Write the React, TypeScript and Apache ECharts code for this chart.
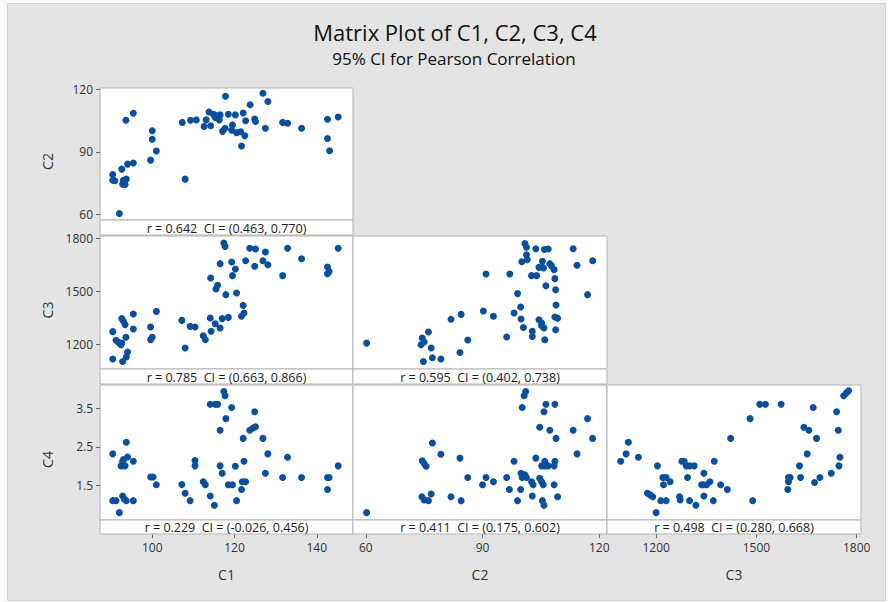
import React, { useEffect, useRef } from "react";
import * as echarts from "echarts";

// ---- data ----
const c1c2: number[][] = [
  [90.4, 79.1], [90.4, 76.4], [90.9, 76.1], [92.0, 60.4], [92.6, 81.7], [93.0, 76.4], [93.7, 76.9],
  [92.8, 74.5], [93.4, 74.3], [93.6, 105.1], [94.0, 84.1], [95.4, 84.6], [95.4, 108.5], [99.6, 86.0],
  [100.0, 96.0], [100.0, 100.1], [101.0, 90.4], [108.0, 76.9], [107.3, 104.1], [109.3, 105.1],
  [110.7, 105.3], [112.6, 102.1], [113.1, 105.3], [113.8, 109.1], [114.2, 102.5], [114.9, 108.0],
  [115.3, 106.5], [115.8, 107.3], [116.3, 105.3], [116.5, 107.7], [117.1, 99.8], [117.8, 116.6],
  [117.7, 101.3], [118.5, 108.0], [119.3, 100.4], [119.5, 102.9], [120.2, 107.7], [120.5, 99.2],
  [121.5, 99.6], [121.7, 92.8], [122.1, 108.6], [122.5, 97.7], [122.7, 104.9], [123.8, 112.6],
  [124.9, 105.7], [125.1, 104.5], [126.9, 118.1], [127.5, 101.3], [128.1, 114.1], [131.7, 104.1],
  [132.9, 103.7], [136.3, 101.3], [142.6, 105.6], [142.6, 96.4], [143.1, 90.5], [145.2, 106.7],
];

const c1c3: number[][] = [
  [90.4, 1272], [90.4, 1117], [91.2, 1223], [91.8, 1211], [92.4, 1198], [92.6, 1346], [92.8, 1103],
  [93.0, 1331], [93.4, 1312], [93.6, 1240], [93.7, 1128], [94.0, 1156], [92.6, 1207], [95.4, 1372],
  [95.4, 1287], [99.6, 1298], [99.6, 1226], [100.0, 1240], [101.0, 1387], [107.2, 1336], [108.0, 1179],
  [109.2, 1302], [110.4, 1298], [112.4, 1249], [112.9, 1226], [114.1, 1349], [114.3, 1274], [115.3, 1317],
  [116.5, 1293], [117.0, 1346], [118.5, 1353], [114.2, 1577], [115.5, 1514], [115.9, 1535], [116.5, 1658],
  [117.4, 1775], [117.7, 1756], [117.9, 1482], [119.3, 1667], [119.5, 1590], [120.2, 1628], [120.5, 1491],
  [121.7, 1359], [122.1, 1421], [122.3, 1378], [122.7, 1675], [123.7, 1745], [124.9, 1643], [125.1, 1741],
  [126.9, 1675], [127.5, 1724], [128.1, 1652], [131.7, 1590], [132.9, 1745], [136.3, 1686], [142.6, 1639],
  [142.6, 1601], [143.0, 1614], [145.2, 1745],
];

const c2c3: number[][] = [
  [60.2, 1207], [74.5, 1236], [75.0, 1213], [74.2, 1198], [76.1, 1270], [76.8, 1179], [74.8, 1103],
  [77.1, 1124], [79.3, 1117], [81.9, 1342], [84.5, 1370], [84.2, 1154], [86.2, 1225], [90.2, 1389],
  [92.8, 1359], [90.9, 1599], [96.2, 1242], [97.0, 1599], [98.1, 1378], [99.0, 1488], [99.8, 1412],
  [99.9, 1344], [100.5, 1296], [100.1, 1669], [100.9, 1772], [101.3, 1751], [101.3, 1709], [101.5, 1681],
  [102.6, 1590], [102.8, 1274], [102.8, 1245], [103.7, 1743], [103.9, 1590], [104.5, 1637], [104.5, 1340],
  [105.2, 1321], [105.4, 1671], [105.7, 1633], [105.8, 1293], [105.9, 1738], [106.0, 1226], [106.3, 1533],
  [106.9, 1741], [107.3, 1658], [107.7, 1647], [108.4, 1624], [108.6, 1573], [108.8, 1510], [108.9, 1423],
  [108.6, 1355], [109.3, 1348], [108.8, 1283], [113.3, 1743], [114.3, 1649], [117.0, 1482], [118.3, 1675],
  [105.2, 1306],
];

const c1c4: number[][] = [
  [90.4, 2.32], [90.4, 1.11], [91.2, 1.11], [92.0, 0.8], [92.4, 2.01], [92.8, 2.13], [93.0, 2.17],
  [93.4, 2.01], [93.7, 2.62], [94.0, 2.24], [92.8, 1.23], [93.2, 1.15], [93.7, 1.11], [95.4, 2.13],
  [95.4, 1.11], [99.6, 1.72], [100.2, 1.72], [101.0, 1.52], [107.2, 1.53], [108.0, 1.3], [109.2, 1.11],
  [110.4, 2.15], [110.4, 2.01], [112.4, 1.6], [112.9, 1.52], [114.1, 1.23], [115.1, 0.99], [114.1, 3.6],
  [115.3, 3.6], [115.9, 3.6], [116.5, 2.93], [116.5, 2.01], [117.0, 1.82], [117.4, 3.93], [117.7, 3.82],
  [117.9, 3.23], [118.5, 1.52], [119.3, 3.52], [119.5, 1.52], [120.2, 2.0], [120.5, 1.11], [121.7, 1.4],
  [121.9, 1.6], [122.1, 2.72], [122.3, 2.13], [122.7, 1.6], [123.7, 2.93], [124.5, 2.99], [125.1, 3.02],
  [124.9, 3.41], [126.9, 2.72], [127.5, 1.82], [128.1, 2.32], [131.7, 1.71], [132.9, 2.23], [136.3, 1.71],
  [142.6, 1.71], [143.0, 1.71], [142.6, 1.4], [145.2, 2.01],
];

const c2c4: number[][] = [
  [60.2, 0.8], [74.5, 2.14], [75.0, 2.07], [75.5, 2.0], [77.1, 2.6], [79.3, 2.31], [74.4, 1.21],
  [75.0, 1.13], [76.1, 1.11], [76.8, 1.28], [81.9, 1.21], [84.5, 1.11], [84.2, 2.21], [86.2, 1.71],
  [90.0, 1.52], [90.9, 1.71], [92.8, 1.6], [96.2, 1.71], [96.9, 1.4], [98.1, 2.13], [99.0, 1.11],
  [99.8, 1.4], [99.9, 1.82], [100.2, 1.71], [100.9, 1.78], [101.3, 1.71], [100.2, 3.52], [100.7, 3.82],
  [101.1, 3.93], [102.6, 1.6], [102.8, 1.23], [103.0, 1.52], [103.7, 2.21], [104.7, 3.01], [104.7, 1.69],
  [105.2, 1.6], [105.4, 1.11], [105.8, 0.99], [105.8, 3.41], [105.6, 1.52], [105.2, 2.01], [106.0, 2.13],
  [106.3, 3.6], [106.9, 2.01], [107.3, 2.93], [108.6, 3.6], [108.6, 2.13], [108.4, 2.01], [108.4, 1.52],
  [108.9, 2.72], [109.3, 1.21], [113.3, 2.93], [114.3, 2.32], [117.0, 3.23], [118.3, 2.72], [106.0, 2.01],
];

const c3c4: number[][] = [
  [1094, 2.13], [1110, 2.32], [1117, 2.62], [1147, 2.23], [1174, 1.3], [1182, 1.26], [1190, 1.21],
  [1200, 0.8], [1204, 2.01], [1214, 1.11], [1230, 1.11], [1220, 1.71], [1222, 1.52], [1230, 1.71],
  [1242, 1.6], [1270, 1.21], [1272, 1.13], [1277, 2.13], [1284, 2.13], [1290, 2.01], [1294, 1.71],
  [1300, 1.11], [1300, 2.01], [1314, 2.01], [1319, 0.99], [1336, 1.52], [1343, 1.82], [1343, 1.23],
  [1351, 1.52], [1361, 1.6], [1371, 1.11], [1374, 2.13], [1393, 1.52], [1413, 1.4], [1423, 2.72],
  [1481, 3.23], [1489, 1.11], [1510, 3.6], [1527, 3.6], [1574, 3.6], [1596, 1.71], [1596, 1.6],
  [1594, 1.4], [1601, 1.71], [1629, 2.01], [1632, 1.71], [1642, 3.01], [1652, 2.32], [1657, 2.93],
  [1670, 3.52], [1674, 1.58], [1680, 2.72], [1690, 1.71], [1724, 1.82], [1740, 3.41], [1745, 2.93],
  [1747, 2.01], [1750, 2.23], [1761, 3.82], [1769, 3.89], [1776, 3.95], [1341, 1.52],
];

const varNames = ["C1", "C2", "C3", "C4"];
const c1Ticks = [100, 120, 140];
const c2Ticks = [60, 90, 120];
const c3Ticks = [1200, 1500, 1800];
const c4Ticks = [1.5, 2.5, 3.5];
const corrLabels = [
  "r = 0.642  CI = (0.463, 0.770)",
  "r = 0.785  CI = (0.663, 0.866)",
  "r = 0.595  CI = (0.402, 0.738)",
  "r = 0.229  CI = (-0.026, 0.456)",
  "r = 0.411  CI = (0.175, 0.602)",
  "r = 0.498  CI = (0.280, 0.668)",
];
const titleText = "Matrix Plot of C1, C2, C3, C4";
const subtitleText = "95% CI for Pearson Correlation";

// ---- layout ----
const FONT = '"Open Sans", "Noto Sans", sans-serif';
const cols = [
  { l: 100, r: 353 },
  { l: 353, r: 607 },
  { l: 607, r: 861 },
];
const rows = [
  { t: 88, b: 220, sb: 235 },
  { t: 236, b: 369, sb: 384 },
  { t: 385, b: 520, sb: 534 },
];
const xRange = [
  [87.3, 148.8],
  [56.7, 122],
  [1053, 1813],
];
const yRange = [
  [57.3, 120.6],
  [1060, 1815],
  [0.61, 4.1],
];
const xTicks = [c1Ticks, c2Ticks, c3Ticks];
const yTicks = [c2Ticks, c3Ticks, c4Ticks];

const panels = [
  { row: 0, col: 0, data: c1c2, label: corrLabels[0] },
  { row: 1, col: 0, data: c1c3, label: corrLabels[1] },
  { row: 1, col: 1, data: c2c3, label: corrLabels[2] },
  { row: 2, col: 0, data: c1c4, label: corrLabels[3] },
  { row: 2, col: 1, data: c2c4, label: corrLabels[4] },
  { row: 2, col: 2, data: c3c4, label: corrLabels[5] },
];

const DOT = "#0a4f9c";
const FRAME = "#b3b3b3";
const fmt = (v: number) => String(v);

export default function App() {
  const ref = useRef<HTMLDivElement>(null);
  useEffect(() => {
    document.body.style.margin = "0";
    const chart = echarts.init(ref.current!, null, { renderer: "svg" });

    const grids: any[] = [];
    const xAxes: any[] = [];
    const yAxes: any[] = [];
    const series: any[] = [];
    const graphics: any[] = [];

    graphics.push({
      type: "rect",
      z: -10,
      shape: { x: 7.5, y: 3.5, width: 878, height: 597 },
      style: { fill: "#e4e4e4", stroke: "#d2d2d2", lineWidth: 1 },
    });

    panels.forEach((p, i) => {
      const c = cols[p.col];
      const r = rows[p.row];
      grids.push({
        left: c.l,
        top: r.t,
        width: c.r - c.l,
        height: r.b - r.t,
        show: true,
        backgroundColor: "#ffffff",
        borderColor: FRAME,
        borderWidth: 1,
      });
      const showX = p.row === 2;
      const showY = p.col === 0;
      xAxes.push({
        type: "value",
        gridIndex: i,
        min: xRange[p.col][0],
        max: xRange[p.col][1],
        offset: showX ? r.sb - r.b : 0,
        axisLine: { show: false },
        splitLine: { show: false },
        axisTick: {
          show: showX,
          length: 4,
          lineStyle: { color: "#666" },
          customValues: xTicks[p.col],
        },
        axisLabel: {
          show: showX,
          margin: 7,
          color: "#333",
          fontSize: 12,
          fontFamily: FONT,
          formatter: fmt,
          customValues: xTicks[p.col],
        },
      });
      yAxes.push({
        type: "value",
        gridIndex: i,
        min: yRange[p.row][0],
        max: yRange[p.row][1],
        axisLine: { show: false },
        splitLine: { show: false },
        axisTick: {
          show: showY,
          length: 4,
          lineStyle: { color: "#666" },
          customValues: yTicks[p.row],
        },
        axisLabel: {
          show: showY,
          margin: 7,
          color: "#333",
          fontSize: 12,
          fontFamily: FONT,
          formatter: fmt,
          customValues: yTicks[p.row],
        },
      });
      series.push({
        type: "scatter",
        xAxisIndex: i,
        yAxisIndex: i,
        data: p.data,
        symbol: "circle",
        symbolSize: 7,
        itemStyle: { color: DOT, opacity: 1 },
        silent: true,
      });
      graphics.push({
        type: "rect",
        z: 5,
        shape: { x: c.l, y: r.b, width: c.r - c.l, height: r.sb - r.b },
        style: { fill: "#ffffff", stroke: FRAME, lineWidth: 1 },
      });
      graphics.push({
        type: "text",
        z: 6,
        style: {
          text: p.label.replace(/ /g, "\u00a0"),
          x: (c.l + c.r) / 2,
          y: (r.b + r.sb) / 2 + 0.5,
          fill: "#1a1a1a",
          font: `12.5px ${FONT}`,
          textAlign: "center",
          textVerticalAlign: "middle",
        },
      });
    });

    cols.forEach((c, k) => {
      graphics.push({
        type: "text",
        style: {
          text: varNames[k],
          x: (c.l + c.r) / 2,
          y: 574,
          fill: "#333",
          font: `14px ${FONT}`,
          textAlign: "center",
          textVerticalAlign: "middle",
        },
      });
    });
    rows.forEach((r, k) => {
      graphics.push({
        type: "text",
        x: 47,
        y: (r.t + r.sb) / 2,
        rotation: Math.PI / 2,
        style: {
          text: varNames[k + 1],
          x: 0,
          y: 0,
          fill: "#333",
          font: `14px ${FONT}`,
          textAlign: "center",
          textVerticalAlign: "middle",
        },
      });
    });

    graphics.push({
      type: "text",
      style: {
        text: titleText,
        x: 455,
        y: 32,
        fill: "#111",
        font: `22px ${FONT}`,
        textAlign: "center",
        textVerticalAlign: "middle",
      },
    });
    graphics.push({
      type: "text",
      style: {
        text: subtitleText,
        x: 454,
        y: 58,
        fill: "#111",
        font: `17px ${FONT}`,
        textAlign: "center",
        textVerticalAlign: "middle",
      },
    });

    chart.setOption({
      animation: false,
      backgroundColor: "#f8f8f8",
      grid: grids,
      xAxis: xAxes,
      yAxis: yAxes,
      series,
      graphic: { elements: graphics },
    });
    return () => chart.dispose();
  }, []);
  return <div ref={ref} style={{ width: 888, height: 602 }} />;
}
